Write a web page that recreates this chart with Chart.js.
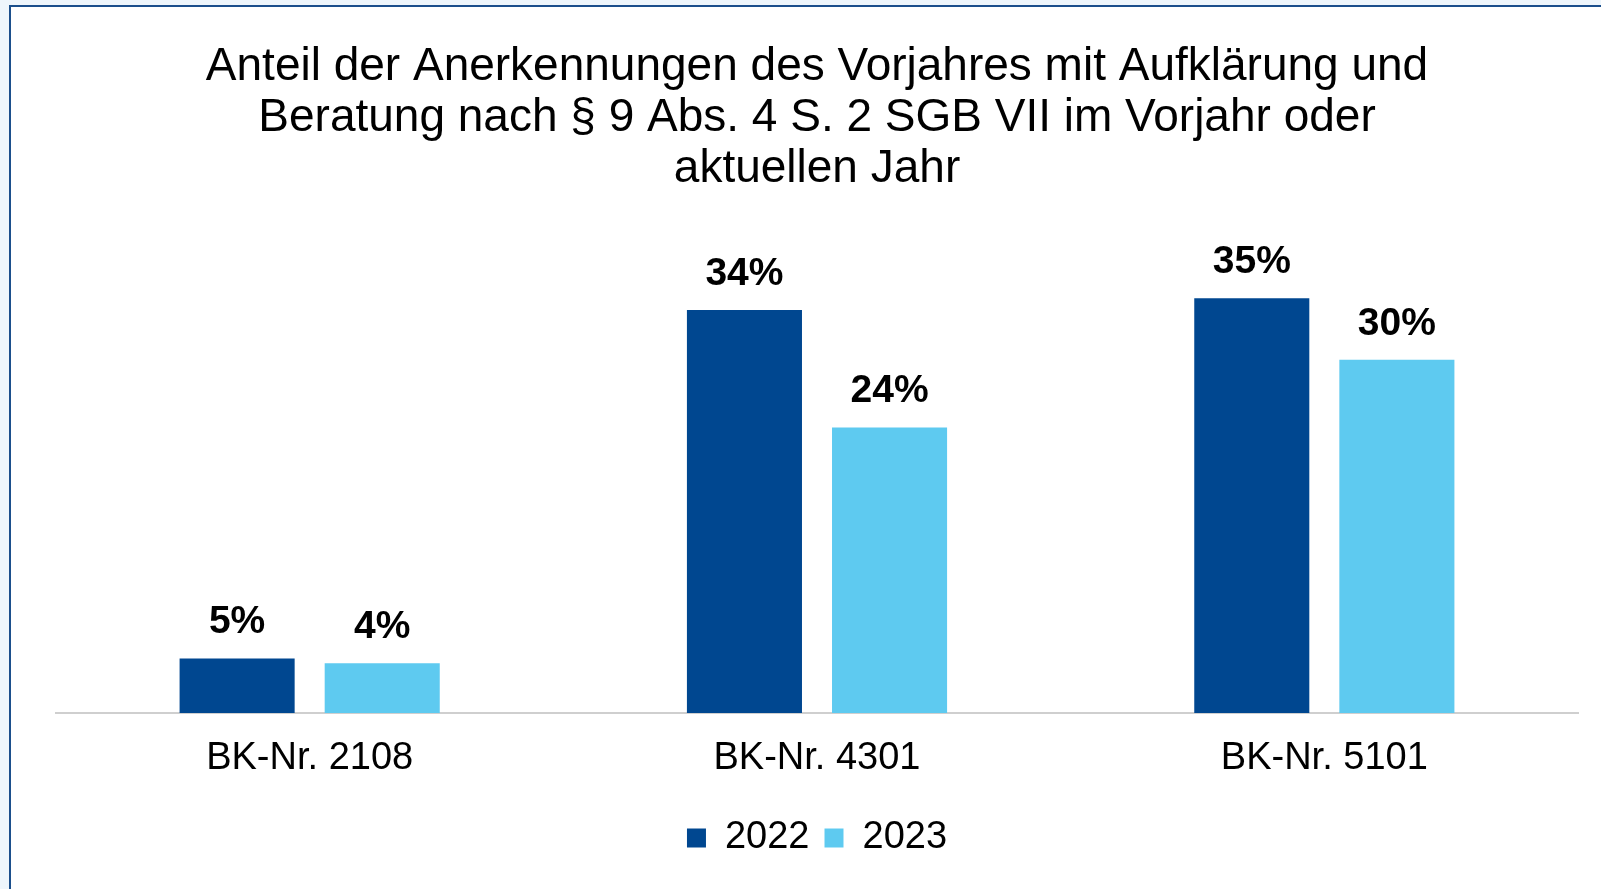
<!DOCTYPE html>
<html><head><meta charset="utf-8">
<script src="https://cdn.jsdelivr.net/npm/chart.js@4.4.1/dist/chart.umd.min.js"></script>
<style>
html,body{margin:0;padding:0;width:1601px;height:889px;overflow:hidden;background:#eef6fc;}
#frame{position:absolute;left:9px;top:5px;width:1620px;height:900px;background:#fff;border-left:2px solid #1b4f8c;border-top:2px solid #1b4f8c;}
#wrap{position:absolute;left:0;top:0;width:1601px;height:889px;}
</style></head><body>
<div id="frame"></div>
<div id="wrap"><canvas id="c"></canvas></div>
<script>
const categories = ['BK-Nr. 2108', 'BK-Nr. 4301', 'BK-Nr. 5101'];
const seriesNames = ['2022', '2023'];
const values2022 = [4.6, 34.0, 35.0];
const values2023 = [4.2, 24.1, 29.8];
const titleLines = [
  'Anteil der Anerkennungen des Vorjahres mit Aufklärung und',
  'Beratung nach § 9 Abs. 4 S. 2 SGB VII im Vorjahr oder',
  'aktuellen Jahr'
];
const yMax = 40;

const FONT = "'Liberation Sans', Arial, sans-serif";

const valueLabels = {
  id: 'valueLabels',
  afterDatasetsDraw(chart) {
    const ctx = chart.ctx;
    ctx.save();
    ctx.font = 'bold 39px ' + FONT;
    ctx.fillStyle = '#000';
    ctx.textAlign = 'center';
    ctx.textBaseline = 'alphabetic';
    chart.data.datasets.forEach((ds, di) => {
      const meta = chart.getDatasetMeta(di);
      meta.data.forEach((bar, i) => {
        ctx.fillText(Math.round(ds.data[i]) + '%', bar.x, bar.y - 25);
      });
    });
    ctx.restore();
  }
};

new Chart(document.getElementById('c'), {
  type: 'bar',
  data: {
    labels: categories,
    datasets: [
      { label: seriesNames[0], data: values2022, backgroundColor: '#004790' },
      { label: seriesNames[1], data: values2023, backgroundColor: '#5ecaf0' }
    ]
  },
  options: {
    responsive: true,
    maintainAspectRatio: false,
    animation: false,
    categoryPercentage: 0.572,
    barPercentage: 0.793,
    layout: { padding: { left: 56, right: 23, top: 0, bottom: 22 } },
    plugins: {
      title: {
        display: true,
        text: titleLines,
        color: '#000',
        font: { family: FONT, size: 46, weight: 'normal', lineHeight: 51/46 },
        padding: { top: 42, bottom: 44 }
      },
      legend: {
        display: true,
        position: 'bottom',
        labels: {
          color: '#000',
          font: { family: FONT, size: 38 },
          boxWidth: 19,
          boxHeight: 19,
          padding: 15
        }
      },
      tooltip: { enabled: false }
    },
    scales: {
      x: {
        grid: { display: false, drawTicks: false },
        border: { display: true, color: '#cfcfcf', width: 2 },
        ticks: { color: '#000', font: { family: FONT, size: 38 }, padding: 22.7 }
      },
      y: {
        display: false,
        min: 0,
        max: yMax
      }
    }
  },
  plugins: [valueLabels]
});
</script>
</body></html>
